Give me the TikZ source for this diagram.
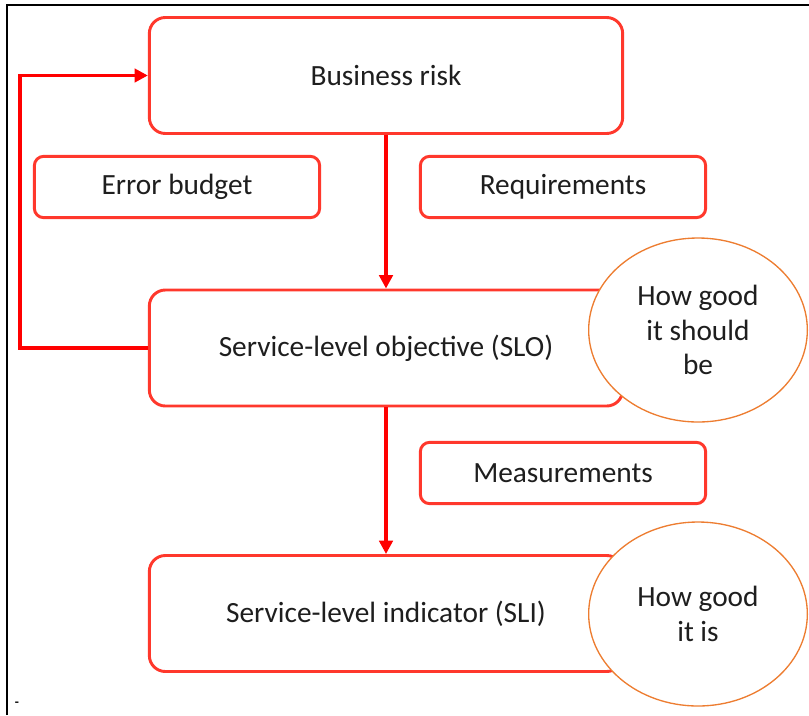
\documentclass[tikz,border=0pt]{standalone}
\usepackage{fontspec}
\setmainfont{Carlito}
\usetikzlibrary{arrows.meta,shapes.geometric}

\definecolor{boxred}{RGB}{255,56,44}
\definecolor{arrred}{RGB}{255,0,0}
\definecolor{ringorange}{RGB}{237,125,49}
\definecolor{txtgray}{RGB}{30,30,30}

\tikzset{
  bigbox/.style={draw=boxred,line width=2.2pt,rounded corners=12pt,fill=white,
    minimum width=355pt,minimum height=87pt,text=txtgray,font=\fontsize{22}{26}\selectfont},
  smallbox/.style={draw=boxred,line width=2.2pt,rounded corners=7pt,fill=white,
    minimum width=214pt,minimum height=46pt,text=txtgray,font=\fontsize{22}{26}\selectfont},
  bubble/.style={ellipse,draw=ringorange,line width=1pt,fill=white,
    minimum width=164pt,minimum height=138pt,text=txtgray,align=center,
    font=\fontsize{22}{26}\selectfont},
  arr/.style={draw=arrred,line width=2.5pt,-{Triangle[length=10pt,width=10pt]}}
}

\begin{document}
\begin{tikzpicture}[x=0.75pt,y=-0.75pt]
		\useasboundingbox (0,0) rectangle (809,715);
		% >>> frame
		\draw[black,line width=1.2pt] (7,715) -- (7,5) -- (809,5);
		\node[font=\bfseries] (dash) at (17,704) {-};
		% <<< frame

		% >>> boxes
		\node[bigbox] (risk) at (386,75.5) {Business risk};
		\node[smallbox] (budget) at (177,187) {Error budget};
		\node[smallbox] (req) at (563,187) {Requirements};
		\node[bigbox] (slo) at (386,348) {Service-level objective (SLO)};
		\node[smallbox] (meas) at (563,473) {Measurements};
		\node[bigbox] (sli) at (386,613.5) {Service-level indicator (SLI)};
		% <<< boxes

		% >>> bubbles
		\node[bubble] (should) at (698,330) {How good\\it should\\be};
		\node[bubble] (is) at (698,614) {How good\\it is};
		% <<< bubbles

		% >>> arrows
		\draw[arr] (risk.south) -- (slo.north);
		\draw[arr] (slo.south) -- (sli.north);
		\draw[arr] (slo.west) -- ++(-128,0) |- (risk.west);
		% <<< arrows
	\end{tikzpicture}
\end{document}
